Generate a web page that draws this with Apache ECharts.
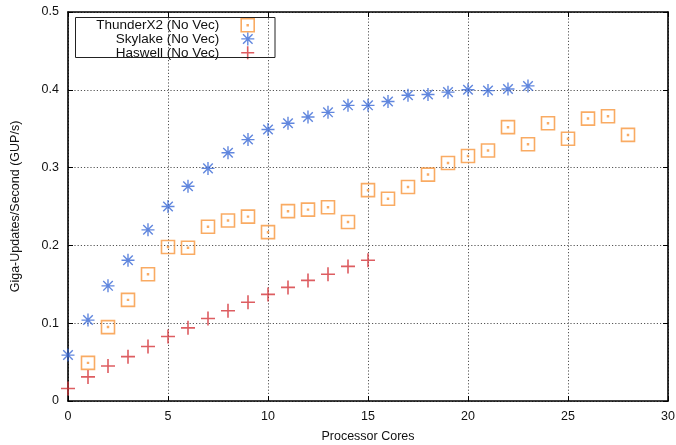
<!DOCTYPE html>
<html>
<head>
<meta charset="utf-8">
<script src="https://cdn.jsdelivr.net/npm/echarts@6/dist/echarts.min.js"></script>
<style>html,body{margin:0;padding:0;background:#fff}#c{width:676px;height:445px}</style>
</head>
<body>
<div id="c"></div>
<script>
// ---- data ----
var seriesNames = ['ThunderX2 (No Vec)', 'Skylake (No Vec)', 'Haswell (No Vec)'];
var xTicks = [0, 5, 10, 15, 20, 25, 30];
var yTicks = [0, 0.1, 0.2, 0.3, 0.4, 0.5];
var thunderCores = [1,2,3,4,5,6,7,8,9,10,11,12,13,14,15,16,17,18,19,20,21,22,23,24,25,26,27,28];
var thunderGUP = [0.049,0.095,0.130,0.163,0.198,0.197,0.224,0.232,0.237,0.217,0.244,0.246,0.249,0.230,0.271,0.260,0.275,0.291,0.306,0.315,0.322,0.352,0.330,0.357,0.337,0.363,0.366,0.342];
var skylakeCores = [0,1,2,3,4,5,6,7,8,9,10,11,12,13,14,15,16,17,18,19,20,21,22,23];
var skylakeGUP = [0.059,0.104,0.148,0.181,0.220,0.250,0.276,0.299,0.319,0.336,0.349,0.357,0.365,0.371,0.380,0.380,0.385,0.393,0.394,0.397,0.400,0.399,0.401,0.405];
var haswellCores = [0,1,2,3,4,5,6,7,8,9,10,11,12,13,14,15];
var haswellGUP = [0.016,0.031,0.045,0.057,0.070,0.083,0.094,0.106,0.116,0.127,0.137,0.146,0.155,0.163,0.173,0.181];

function pairs(xs, ys){ return xs.map(function(x,i){ return [x, ys[i]]; }); }

var colOrange = '#f7963c', colBlue = '#3a69d6', colRed = '#d4343a';
var symSquare = 'path://M0,0L12,0L12,12L0,12Z M5.6,5.6L6.4,5.6L6.4,6.4L5.6,6.4Z';
var symStar = 'path://M6,0L6,12M0,6L12,6M1.6,1.6L10.4,10.4M10.4,1.6L1.6,10.4';
var symPlus = 'path://M6,0L6,12M0,6L12,6';
var FONT = 'Liberation Sans';
var txt = {fontFamily: FONT, fontSize: 12.5, color: '#111'};

var styles = [
  {symbol: symSquare, size: 13, itemStyle: {color: 'transparent', borderColor: colOrange, borderWidth: 1.6}},
  {symbol: symStar, size: 13, itemStyle: {color: 'transparent', borderColor: colBlue, borderWidth: 1.4}},
  {symbol: symPlus, size: 14, itemStyle: {color: 'transparent', borderColor: colRed, borderWidth: 1.6}}
];
var datas = [pairs(thunderCores, thunderGUP), pairs(skylakeCores, skylakeGUP), pairs(haswellCores, haswellGUP)];

var rowTops = [18, 31.7, 45.5];
var legends = seriesNames.map(function(n, i){
  return {
    data: [{name: n, icon: styles[i].symbol, itemStyle: styles[i].itemStyle}],
    right: 421, top: rowTops[i], padding: 0, align: 'right', orient: 'vertical',
    itemWidth: 13, itemHeight: 13, selectedMode: false,
    textStyle: {fontFamily: FONT, fontSize: 13.5, color: '#111', padding: [0, 17, 0, 0]}
  };
});

var gridLine = {show: true, lineStyle: {color: '#555', width: 1, type: [1.2, 2]}};
var frameLine = {show: true, onZero: false, lineStyle: {color: '#000', width: 1.6}};
var tick = {show: true, inside: true, length: 5, lineStyle: {color: '#000', width: 1}};

var option = {
  animation: false,
  backgroundColor: '#fff',
  grid: {left: 68, right: 8, top: 12, bottom: 44, containLabel: false, outerBoundsMode: 'none'},
  legend: legends,
  graphic: [{type: 'rect', z: 10, shape: {x: 75.5, y: 17.5, width: 199.5, height: 40}, style: {fill: 'none', stroke: '#222', lineWidth: 1}}],
  xAxis: [{
    type: 'value', min: xTicks[0], max: xTicks[xTicks.length-1], interval: 5,
    name: 'Processor Cores', nameLocation: 'middle', nameGap: 29, nameTextStyle: txt,
    axisLine: frameLine, axisTick: tick, splitLine: gridLine,
    axisLabel: Object.assign({margin: 9}, txt)
  }, {
    type: 'value', position: 'top', min: xTicks[0], max: xTicks[xTicks.length-1], interval: 5,
    axisLine: frameLine, axisTick: tick, splitLine: {show: false}, axisLabel: {show: false}
  }],
  yAxis: [{
    type: 'value', min: yTicks[0], max: yTicks[yTicks.length-1], interval: 0.1,
    name: 'Giga-Updates/Second (GUP/s)', nameLocation: 'middle', nameGap: 46, nameTextStyle: txt,
    axisLine: frameLine, axisTick: tick, splitLine: gridLine,
    axisLabel: Object.assign({margin: 9}, txt)
  }, {
    type: 'value', position: 'right', min: yTicks[0], max: yTicks[yTicks.length-1], interval: 0.1,
    axisLine: frameLine, axisTick: tick, splitLine: {show: false}, axisLabel: {show: false}
  }],
  series: seriesNames.map(function(n, i){
    return {
      name: n, type: 'scatter', data: datas[i], xAxisIndex: 0, yAxisIndex: 0,
      symbol: styles[i].symbol, symbolSize: styles[i].size, itemStyle: styles[i].itemStyle,
      emphasis: {disabled: true}, z: 3 - i
    };
  })
};
var chart = echarts.init(document.getElementById('c'), null, {renderer: 'canvas'});
chart.setOption(option);
</script>
</body>
</html>
